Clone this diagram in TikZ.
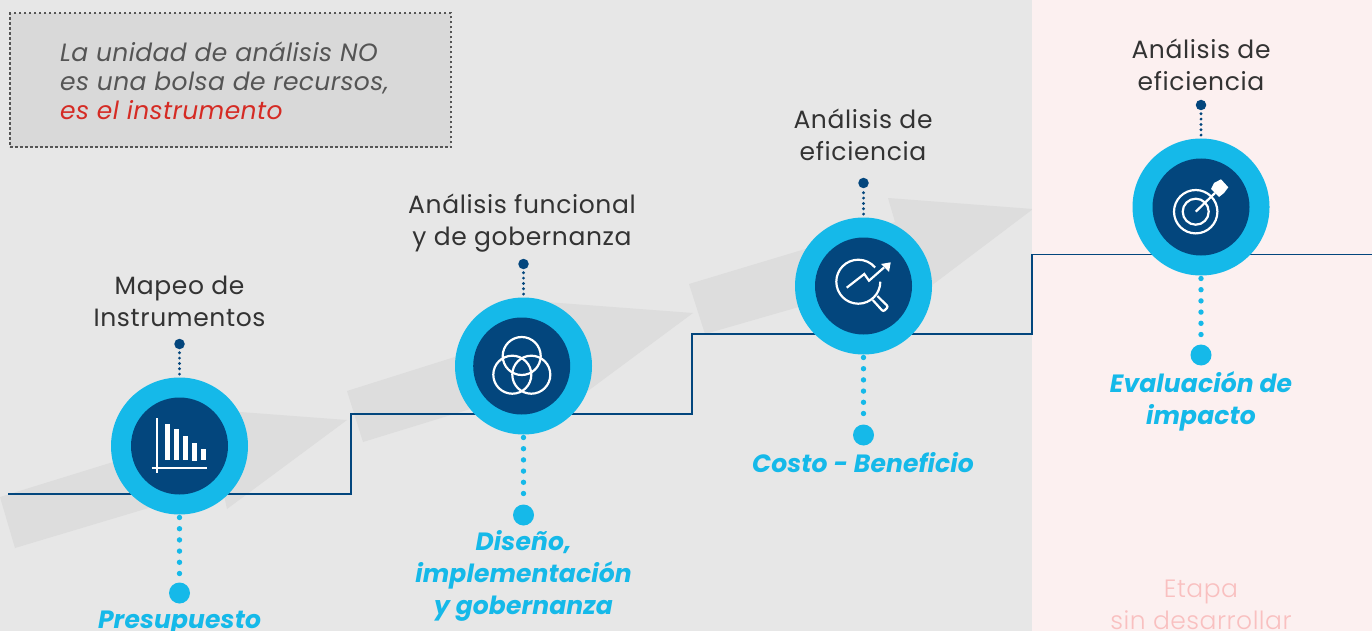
\documentclass[tikz,border=0pt]{standalone}
\usepackage{fontspec}
\setmainfont{Poppins}
\newfontfamily\lightfont{Poppins Light}
\definecolor{bggray}{HTML}{E7E7E7}
\definecolor{bgpink}{HTML}{FCF0F0}
\definecolor{arrowgray}{HTML}{DDDDDD}
\definecolor{boxgray}{HTML}{D9D9D9}
\definecolor{textgray}{HTML}{555555}
\definecolor{redtext}{HTML}{D52B24}
\definecolor{pinktext}{HTML}{F9C0C0}
\definecolor{skyblue}{HTML}{15B9E9}
\definecolor{navyblue}{HTML}{03467D}
\tikzset{
  ring/.style={circle,fill=skyblue,minimum size=137pt,inner sep=0pt},
  core/.style={circle,fill=navyblue,minimum size=97pt,inner sep=0pt},
  stepline/.style={draw=navyblue,line width=1.05pt},
  bigdot/.style={circle,fill=skyblue,minimum size=21pt,inner sep=0pt},
  smalldot/.style={circle,fill=navyblue,minimum size=10.5pt,inner sep=0pt},
  upline/.style={draw=navyblue,line width=3.2pt,line cap=round,dash pattern=on 0pt off 5.33pt,shorten <=3.2pt},
  downline/.style={draw=skyblue,line width=5.4pt,line cap=round,dash pattern=on 0pt off 11.2pt,shorten <=2.8pt},
  title/.style={align=center,text=black!80,font=\fontsize{25}{32}\selectfont\addfontfeature{LetterSpace=2.5}},
  result/.style={align=center,text=skyblue,font=\fontsize{25}{32}\selectfont\bfseries\itshape\addfontfeature{LetterSpace=0.5}},
  icon/.style={draw=white,line width=2.2pt},
  greyarrow/.style={fill=arrowgray}
}
\begin{document}
\begin{tikzpicture}[x=1pt,y=-1pt]
    \useasboundingbox (0,0) rectangle (1372,631);
    \fill[bggray] (0,0) rectangle (1032,631);

    \fill[greyarrow] (0,497) -- (15,548) -- (222,486) -- (227,509) -- (347,420) -- (200,409) -- (207,433) -- cycle;
    \fill[greyarrow] (347,391) -- (363,442) -- (568,379) -- (573,402) -- (693,313) -- (546,302) -- (553,326) -- cycle;
    \fill[greyarrow] (689,284) -- (705,334) -- (910,275) -- (915,298) -- (1033,209) -- (888,198) -- (895,222) -- cycle;
    \fill[bgpink] (1032,0) rectangle (1372,631);

    \node[draw=textgray,line width=2.4pt,dash pattern=on 2.4pt off 2.6pt,fill=boxgray,minimum width=441pt,minimum height=134pt,anchor=north west] (notebox) at (9,12) {};
    \node[anchor=north west,align=left,text=textgray,inner sep=0pt,font=\fontsize{25}{29}\selectfont\itshape\addfontfeature{LetterSpace=1.5}] (notetext) at (60,42) {La unidad de análisis NO\\es una bolsa de recursos,\\\textcolor{redtext}{es el instrumento}};

    % staircase
    \coordinate (start) at (8,494);
    \coordinate (end) at (1372,254.5);
    \draw[stepline] (start) -- (351,494) -- (351,414) -- (692,414) -- (692,334) -- (1032,334) -- (1032,254.5) -- (end);

    % stage 1
    \node[ring] (ringA) at (179.5,446) {};
    \node[core] (coreA) at (ringA) {};
    \node[smalldot] (upA) at (179.5,344) {};
    \node[bigdot] (downA) at (179.5,593) {};
    \draw[upline] (ringA) -- (upA);
    \draw[downline] (ringA) -- (downA);
    \node[title] (titleA) at (179.5,301) {Mapeo de\\Instrumentos};
    \node[result] (resultA) at (179.5,623) {Presupuesto};
    \fill[white] (165,424) rectangle (170,460);
    \fill[white] (174,429) rectangle (179,460);
    \fill[white] (183,436) rectangle (188,460);
    \fill[white] (192,443) rectangle (197,461);
    \fill[white] (201,449) rectangle (206,460);
    \draw[white,line width=1.6pt] (156.7,418) -- (156.7,473) (151.7,467.7) -- (207,467.7);

    % stage 2
    \node[ring] (ringB) at (523.5,366) {};
    \node[core] (coreB) at (521.7,366) {};
    \node[smalldot] (upB) at (523.5,264) {};
    \node[bigdot] (downB) at (523.5,515) {};
    \draw[upline] (ringB) -- (upB);
    \draw[downline] (ringB) -- (downB);
    \node[title] (titleB) at (522,223) {Análisis funcional\\y de gobernanza};
    \node[result] (resultB) at (523.5,576) {Diseño,\\implementación\\y gobernanza};
    \draw[icon] (521.7,356) circle (19);
    \draw[icon] (512.3,374.7) circle (19);
    \draw[icon] (531.3,374.7) circle (19);

    % stage 3
    \node[ring] (ringC) at (863.5,286) {};
    \node[core] (coreC) at (ringC) {};
    \node[smalldot] (upC) at (863.5,183) {};
    \node[bigdot] (downC) at (863.5,435) {};
    \draw[upline] (ringC) -- (upC);
    \draw[downline] (ringC) -- (downC);
    \node[title] (titleC) at (863,135) {Análisis de\\eficiencia};
    \node[result] (resultC) at (863,463) {Costo - Beneficio};
    \draw[icon] (880.3,281.7) arc (0:-320:22 and -22);
    \draw[icon] (846.7,287.7) -- (864.3,274) -- (869,280.7) -- (884,267.5);
    \fill[white] (890.7,262.3) -- (881,264) -- (889,272) -- cycle;
    \draw[icon,rounded corners=2pt] (872.7,300) -- (883.3,311.7) -- (888.3,306.7) -- (877.3,296);

    % stage 4
    \node[ring] (ringD) at (1201,207) {};
    \node[core] (coreD) at (ringD) {};
    \node[smalldot] (upD) at (1201,105) {};
    \node[bigdot] (downD) at (1201,355) {};
    \draw[upline] (ringD) -- (upD);
    \draw[downline] (ringD) -- (downD);
    \node[title] (titleD) at (1201,65) {Análisis de\\eficiencia};
    \node[result] (resultD) at (1201,401) {Evaluación de\\impacto};
    \draw[icon] (1195.7,211.7) circle (21.7);
    \draw[icon] (1195.7,211.7) circle (13);
    \draw[icon] (1195.7,211.7) -- (1215,193);
    \fill[white] (1211,189) -- (1214,183) -- (1221,179.3) -- (1228.3,187.3) -- (1224,193) -- (1219,197) -- cycle;

    \node[align=center,text=pinktext,font=\lightfont\fontsize{25}{32}\selectfont\addfontfeature{LetterSpace=2}] (pending) at (1201,605) {Etapa\\sin desarrollar};
\end{tikzpicture}
\end{document}
